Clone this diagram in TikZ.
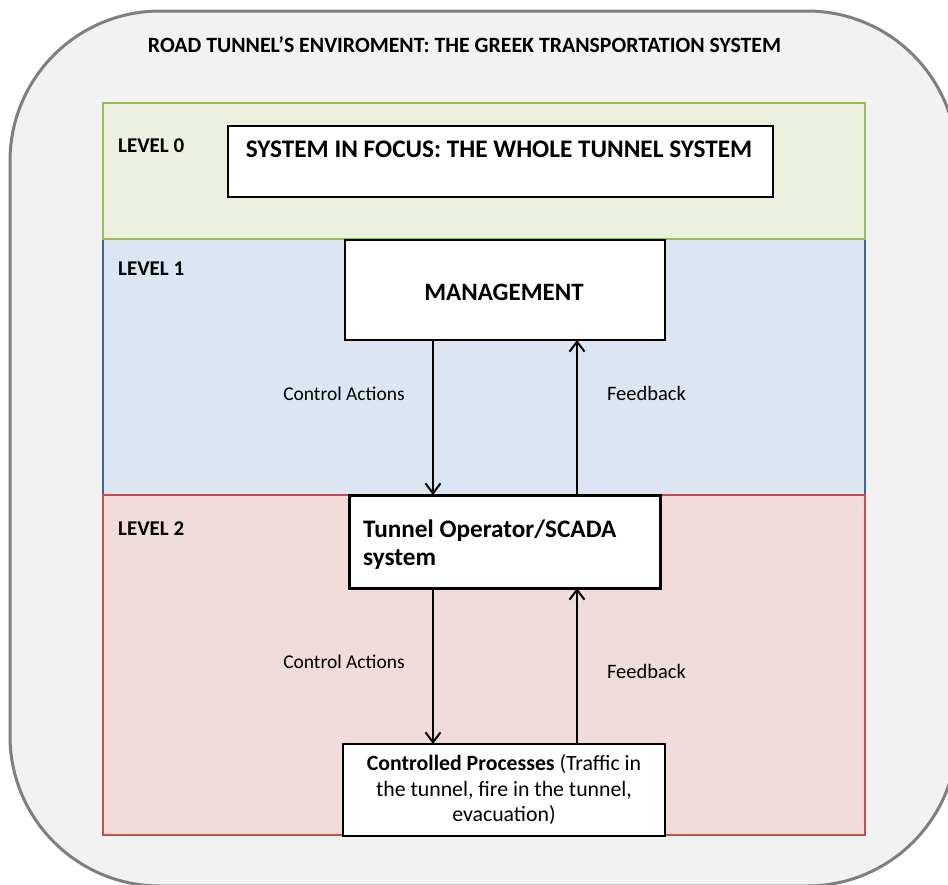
\documentclass[tikz,border=0pt]{standalone}
\usepackage{fontspec}
\setmainfont{Carlito}
\usetikzlibrary{arrows.meta}

\definecolor{envfill}{HTML}{F2F2F2}
\definecolor{envline}{HTML}{7F7F7F}
\definecolor{lzfill}{HTML}{EBF1DE}
\definecolor{lzline}{HTML}{9BBB59}
\definecolor{lofill}{HTML}{DCE6F2}
\definecolor{loline}{HTML}{3F659B}
\definecolor{ltfill}{HTML}{F2DCDB}
\definecolor{ltline}{HTML}{C0504D}

\tikzset{
  envbox/.style={fill=envfill, draw=envline, line width=3pt, rounded corners=150pt},
  levelzero/.style={fill=lzfill, draw=lzline, line width=2.5pt},
  levelone/.style={fill=lofill, draw=loline, line width=2.5pt},
  leveltwo/.style={fill=ltfill, draw=ltline, line width=2.5pt},
  whitebox/.style={draw=black, fill=white, line width=2pt, inner sep=0pt, outer sep=0pt},
  levellabel/.style={anchor=base west, inner sep=0pt, font=\fontsize{21}{25}\selectfont\bfseries},
  flowlabel/.style={anchor=base, inner sep=0pt, font=\fontsize{19.5}{23}\selectfont},
  flowarrow/.style={line width=2pt, -{Straight Barb[length=10pt,width=15pt,line width=2pt]}},
}

\begin{document}
\begin{tikzpicture}[x=1pt,y=-1pt]
\useasboundingbox (0,0) rectangle (948,884);

% environment of the tunnel
\begin{scope}
  \clip (0,0) rectangle (948,884);
  \fill[white] (0,0) rectangle (948,884);
  \draw[envbox] (10,11) rectangle (957,886);
\end{scope}
\node[anchor=base, inner sep=0pt, font=\fontsize{21.8}{26}\selectfont\bfseries] (title) at (464.5,52)
  {ROAD TUNNEL’S ENVIROMENT: THE GREEK TRANSPORTATION SYSTEM};

% hierarchy levels
\draw[levelone]  (103,239) rectangle (865,495);
\draw[levelzero] (103,103) rectangle (865,239);
\draw[leveltwo]  (103,495) rectangle (865,835);

\node[levellabel] (l0) at (118,152) {LEVEL 0};
\node[levellabel] (l1) at (118,275) {LEVEL 1};
\node[levellabel] (l2) at (118,535) {LEVEL 2};

% boxes
\node[whitebox, minimum width=545pt, minimum height=71pt] (focus) at (500.5,161.5) {};
\node[anchor=base, inner sep=0pt, font=\fontsize{25.3}{29}\selectfont\bfseries] (focustext) at (499,157)
  {SYSTEM IN FOCUS: THE WHOLE TUNNEL SYSTEM};

\node[whitebox, minimum width=320pt, minimum height=100pt] (mgmt) at (505,290) {};
\node[anchor=base, inner sep=0pt, font=\fontsize{25}{29}\selectfont\bfseries] (mgmttext) at (504,300.5) {MANAGEMENT};

\node[whitebox, line width=3pt, minimum width=311pt, minimum height=93pt] (scada) at (504.5,541.5) {};
\node[anchor=base west, inner sep=0pt, font=\fontsize{25.2}{28}\selectfont\bfseries] (scadatext) at (363,537)
  {Tunnel Operator/SCADA};
\node[anchor=base west, inner sep=0pt, font=\fontsize{25.2}{28}\selectfont\bfseries] (scadatexttwo) at (363,565)
  {system};

\node[whitebox, minimum width=322pt, minimum height=92pt, align=center,
      font=\fontsize{21.8}{25.5}\selectfont] (proc) at (504,790)
  {\textbf{Controlled Processes} (Traffic in\\the tunnel, fire in the tunnel,\\evacuation)};

% control loops
\coordinate (xl) at (433,0);
\coordinate (xr) at (577,0);
\draw[flowarrow] (mgmt.south -| xl) -- (scada.north -| xl);
\draw[flowarrow] (scada.north -| xr) -- (mgmt.south -| xr);
\draw[flowarrow] (scada.south -| xl) -- (proc.north -| xl);
\draw[flowarrow] (proc.north -| xr) -- (scada.south -| xr);

\node[flowlabel] (ca1) at (344,400.5) {Control Actions};
\node[flowlabel, font=\fontsize{20.5}{24}\selectfont] (fb1) at (646.5,400) {Feedback};
\node[flowlabel] (ca2) at (344,668) {Control Actions};
\node[flowlabel, font=\fontsize{20.5}{24}\selectfont] (fb2) at (646.5,678) {Feedback};
\end{tikzpicture}
\end{document}
